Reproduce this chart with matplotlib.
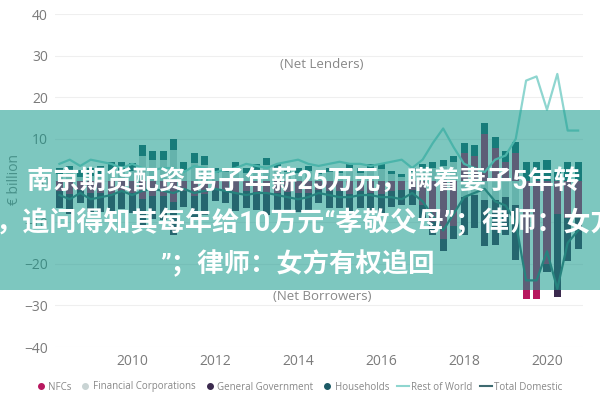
import matplotlib
matplotlib.use('Agg')
import matplotlib.pyplot as plt
import matplotlib.dates as mdates
from matplotlib.patches import Rectangle
from matplotlib.lines import Line2D
import numpy as np
import pandas as pd

quarters = ["2008Q2", "2008Q3", "2008Q4",
            "2009Q1", "2009Q2", "2009Q3", "2009Q4",
            "2010Q1", "2010Q2", "2010Q3", "2010Q4",
            "2011Q1", "2011Q2", "2011Q3", "2011Q4",
            "2012Q1", "2012Q2", "2012Q3", "2012Q4",
            "2013Q1", "2013Q2", "2013Q3", "2013Q4",
            "2014Q1", "2014Q2", "2014Q3", "2014Q4",
            "2015Q1", "2015Q2", "2015Q3", "2015Q4",
            "2016Q1", "2016Q2", "2016Q3", "2016Q4",
            "2017Q1", "2017Q2", "2017Q3", "2017Q4",
            "2018Q1", "2018Q2", "2018Q3", "2018Q4",
            "2019Q1", "2019Q2", "2019Q3", "2019Q4",
            "2020Q1", "2020Q2", "2020Q3", "2020Q4"]

nfcs = [-2.6, -3.2, -2.2,
        -3.0, -3.0, -3.2, -2.8,
        -3.1, -4.4, -3.7, -3.8,
        -5.2, -2.6, -3.8, -3.3,
        -2.0, -2.2, -3.0, -2.6,
        -2.8, -3.3, -3.0, -2.8,
        -3.0, -3.0, -2.2, -2.6,
        -2.6, -3.2, -2.6, -3.0,
        -3.2, -2.6, -2.4, -2.4,
        -6.0, -10.0, -14.0, -11.0,
        6.5, 6.0, 11.2, 7.9,
        4.5, 6.7, -28.4, -28.4,
        -20.0, -8.0, -9.0, -8.0]

financial_corps = [1.5, 1.7, 0.9,
                   1.0, 1.3, 2.4, 2.3,
                   2.4, 6.0, 5.0, 5.0,
                   7.4, 2.6, 4.3, 3.8,
                   1.8, 2.0, 2.9, 1.8,
                   2.6, 3.7, 2.7, 2.0,
                   1.9, 2.3, 1.6, 2.0,
                   1.7, 2.7, 1.9, 2.8,
                   2.8, 1.6, 0.9, 2.0,
                   2.7, 3.1, 3.5, 4.4,
                   -3.9, -3.5, -4.7, -4.6,
                   -3.9, -5.8, 0.0, 0.0,
                   0.0, 0.0, 0.0, 0.0]

general_gov = [-3.9, -4.8, -3.3,
               -4.5, -4.5, -4.7, -4.1,
               -4.7, -6.6, -5.5, -5.7,
               -7.8, -3.8, -5.7, -5.0,
               -3.0, -3.3, -4.4, -3.9,
               -4.2, -5.0, -4.5, -4.2,
               -4.5, -4.5, -3.3, -3.9,
               -3.9, -4.8, -3.9, -4.5,
               -4.8, -3.8, -3.6, -3.6,
               -3.0, -3.0, -3.0, -3.0,
               -9.1, -8.0, -11.0, -10.8,
               -9.1, -13.4, 0.0, 0.0,
               -2.0, -20.0, -10.4, -8.4]

households = [1.5, 1.8, 1.6,
              2.0, 2.2, 2.0, 2.1,
              1.9, 2.5, 2.2, 2.0,
              2.6, 1.8, 2.2, 2.0,
              1.2, 1.0, 1.5, 1.2,
              1.4, 1.6, 1.3, 1.0,
              1.1, 1.2, 0.9, 1.0,
              0.8, 1.3, 1.1, 1.2,
              1.2, 0.8, 0.6, 1.0,
              1.3, 1.4, 1.5, 1.6,
              2.5, 2.5, 2.5, 2.5,
              2.5, 2.5, 4.4, 4.4,
              5.0, 2.0, 4.4, 4.4]

rest_of_world = [4.0, 5.0, 3.5,
                 5.0, 4.5, 4.0, 3.0,
                 4.0, 3.0, 2.5, 3.0,
                 3.0, 2.0, 3.5, 3.0,
                 2.0, 2.5, 3.0, 4.0,
                 3.5, 3.0, 4.0, 4.5,
                 5.0, 4.0, 3.5, 4.0,
                 4.5, 4.0, 4.0, 3.5,
                 4.0, 4.5, 5.0, 3.0,
                 5.0, 9.0, 12.5, 8.0,
                 4.0, 3.0, 2.0, 5.0,
                 6.0, 10.0, 24.0, 25.0,
                 17.0, 25.6, 12.0, 12.0]

total_domestic = [-3.5, -4.5, -3.0,
                  -4.5, -4.0, -3.5, -2.5,
                  -3.5, -2.5, -2.0, -2.5,
                  -3.0, -2.0, -3.0, -2.5,
                  -2.0, -2.5, -3.0, -3.5,
                  -3.0, -3.0, -3.5, -4.0,
                  -4.5, -4.0, -3.0, -3.5,
                  -4.0, -4.0, -3.5, -3.5,
                  -4.0, -4.0, -4.5, -3.0,
                  -5.0, -8.5, -12.0, -8.0,
                  -4.0, -3.0, -2.0, -5.0,
                  -6.0, -10.0, -24.0, -24.0,
                  -17.0, -26.0, -15.0, -12.0]

sector_names = ["NFCs", "Financial Corporations", "General Government", "Households"]
sector_colors = ["#b8185f", "#c9d4d4", "#3b2a4e", "#1d5a66"]
row_color = "#8fd6d0"
td_color = "#3e6a70"

title_lines = ["南京期货配资 男子年薪25万元，瞒着妻子5年转",
               "，追问得知其每年给10万元“孝敬父母”；律师：女方",
               "”；律师：女方有权追回"]

dates = pd.PeriodIndex(quarters, freq="Q").to_timestamp()

fig = plt.figure(figsize=(6, 4), dpi=100)
ax = fig.add_axes([55 / 600, 1 - 347 / 400, 528 / 600, 333 / 400])

pos = np.zeros(len(dates))
neg = np.zeros(len(dates))
for name, vals, col in zip(sector_names,
                           [nfcs, financial_corps, general_gov, households],
                           sector_colors):
    v = np.array(vals)
    bottom = np.where(v >= 0, pos, neg)
    ax.bar(dates, v, width=62, bottom=bottom, color=col, zorder=2, linewidth=0)
    pos += np.clip(v, 0, None)
    neg += np.clip(v, None, 0)

ax.plot(dates, rest_of_world, color=row_color, lw=1.6, zorder=3)
ax.plot(dates, total_domestic, color=td_color, lw=1.6, zorder=3)

ax.set_ylim(-40, 40)
ax.set_yticks(range(-40, 41, 10))
ax.set_xlim(pd.Timestamp("2008-02-22"), pd.Timestamp("2020-11-13"))
ax.xaxis.set_major_locator(mdates.YearLocator(2))
ax.xaxis.set_major_formatter(mdates.DateFormatter("%Y"))
ax.grid(axis="y", color="#efefef", lw=0.8)
ax.set_axisbelow(True)
for s in ax.spines.values():
    s.set_visible(False)
ax.tick_params(length=0, labelcolor="#7a7a7a", labelsize=10, pad=5)
for lbl in ax.get_xticklabels() + ax.get_yticklabels():
    lbl.set_family("Open Sans")

ax.text(pd.Timestamp("2014-08-01"), 27.8, "(Net Lenders)", ha="center", va="center",
        color="#888888", fontsize=9.5, family="Open Sans")
ax.text(pd.Timestamp("2014-08-01"), -27.8, "(Net Borrowers)", ha="center", va="center",
        color="#888888", fontsize=9.5, family="Open Sans")

fig.text(15 / 600, 0.55, "€ billion", rotation=90, ha="center", va="center",
         color="#888888", fontsize=10, family="Open Sans")

handles = [Line2D([], [], marker="o", ls="", color=c, markersize=4) for c in sector_colors]
handles += [Line2D([], [], color=row_color, lw=1.5), Line2D([], [], color=td_color, lw=1.5)]
labels = sector_names + ["Rest of World", "Total Domestic"]
fig.legend(handles, labels, loc="center left", bbox_to_anchor=(26 / 600, 1 - 387 / 400),
           ncol=6, frameon=False, handletextpad=0.2, columnspacing=0.8,
           handlelength=1.2, labelcolor="#888888", prop={"family": "Open Sans", "size": 7})

fig.add_artist(Rectangle((0, 1 - 290 / 400), 1, 180 / 400, transform=fig.transFigure,
                         facecolor=(19 / 255, 153 / 255, 139 / 255), alpha=0.55,
                         edgecolor="none", zorder=10))

banner_font = ["Roboto", "Noto Sans CJK SC", "DejaVu Sans"]
fig.text(27 / 600, 1 - 182 / 400, title_lines[0], ha="left", va="center", color="white",
         fontsize=19, fontweight="bold", family=banner_font, zorder=11)
fig.text(-4 / 600, 1 - 223 / 400, title_lines[1], ha="left", va="center", color="white",
         fontsize=19.5, fontweight="bold", family=banner_font, zorder=11)
fig.text(160 / 600, 1 - 263 / 400, title_lines[2], ha="left", va="center", color="white",
         fontsize=19, fontweight="bold", family=banner_font, zorder=11)

fig.savefig("out.png", dpi=100)
